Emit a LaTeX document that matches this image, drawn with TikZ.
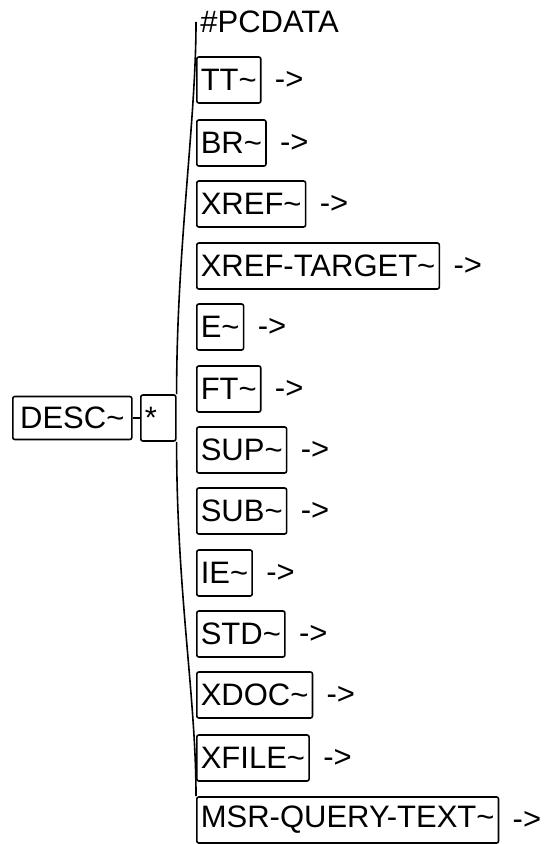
\documentclass[tikz,border=0pt]{standalone}
\usepackage{fontspec}
\setmainfont{Liberation Sans}
\usetikzlibrary{positioning}
\newcommand{\tld}{\textasciitilde}

\begin{document}
\begin{tikzpicture}[
  x=0.5pt, y=-0.5pt,
  every node/.style={font=\fontsize{15.5}{18}\selectfont},
  elem/.style={draw, line width=0.8pt, rounded corners=1pt, minimum height=23pt,
               inner xsep=2pt, inner ysep=0pt, anchor=west},
  more/.style={inner sep=0pt},
  bracket/.style={line width=0.8pt},
]
  \useasboundingbox (0,0) rectangle (547,844);

  \node[elem, minimum width=59.5pt, minimum height=21.5pt, inner xsep=3pt] (desc) at (12,418) {DESC\tld};
  \node[elem, minimum width=17.5pt, text width=13.5pt, align=left] (star) at (140,418) {*};
  \draw[bracket] (desc) -- (star);

  % content list
  \node[anchor=west, inner sep=2pt] (pcdata) at (196,22) {\#PCDATA};
  \foreach \n/\t/\y in {tt/TT\tld/80, br/BR\tld/143, xref/XREF\tld/204,
      xreftarget/XREF-TARGET\tld/266, e/E\tld/327, ft/FT\tld/389, sup/SUP\tld/450,
      sub/SUB\tld/511, ie/IE\tld/573, std/STD\tld/634, xdoc/XDOC\tld/695,
      xfile/XFILE\tld/758, msr/MSR-QUERY-TEXT\tld/820} {
    \node[elem] (\n) at (196,\y) {\t};
    \node[more, right=6.5pt of \n] (\n-more) {->};
  }

  % bracket
  \draw[bracket] (star.north east) .. controls +(0,-145) and +(0,100) .. (pcdata.west);
  \draw[bracket] (star.south east) .. controls +(0,150) and +(0,-100) .. (msr.north west);
\end{tikzpicture}
\end{document}
